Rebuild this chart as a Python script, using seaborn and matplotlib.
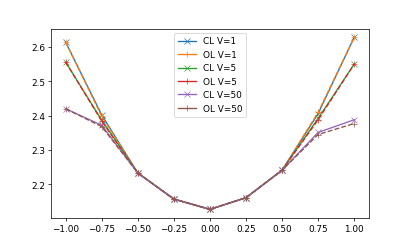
import numpy as np
import pandas as pd
import matplotlib
matplotlib.use('Agg')
import matplotlib.pyplot as plt
import seaborn as sns

# initial offsets
x = [-1.0, -0.75, -0.5, -0.25, 0.0, 0.25, 0.5, 0.75, 1.0]

cl_v1 = [2.614, 2.402, 2.233, 2.157, 2.127, 2.161, 2.241, 2.406, 2.628]
ol_v1 = [2.614, 2.398, 2.233, 2.157, 2.127, 2.161, 2.241, 2.410, 2.628]
cl_v5 = [2.556, 2.387, 2.233, 2.157, 2.127, 2.161, 2.241, 2.392, 2.550]
ol_v5 = [2.556, 2.384, 2.233, 2.157, 2.127, 2.161, 2.241, 2.388, 2.550]
cl_v50 = [2.420, 2.372, 2.233, 2.157, 2.127, 2.161, 2.241, 2.351, 2.388]
ol_v50 = [2.420, 2.368, 2.233, 2.157, 2.127, 2.161, 2.241, 2.345, 2.377]

series = [('CL V=1', cl_v1), ('OL V=1', ol_v1),
          ('CL V=5', cl_v5), ('OL V=5', ol_v5),
          ('CL V=50', cl_v50), ('OL V=50', ol_v50)]

colors = sns.color_palette('tab10')

fig, ax = plt.subplots(figsize=(6.4, 3.84), dpi=64)
for i, (name, vals) in enumerate(series):
    if name.startswith('CL'):
        mk, ls = 'x', '-'
    else:
        mk, ls = '+', '--'
    sns.lineplot(x=x, y=vals, ax=ax, color=colors[i], marker=mk, linestyle=ls,
                 markeredgecolor=colors[i], label=name)

leg = ax.legend(loc='upper center')
for ln in leg.get_lines():
    ln.set_linestyle('-')  # legend shows plain lines
fig.savefig('out.png')
